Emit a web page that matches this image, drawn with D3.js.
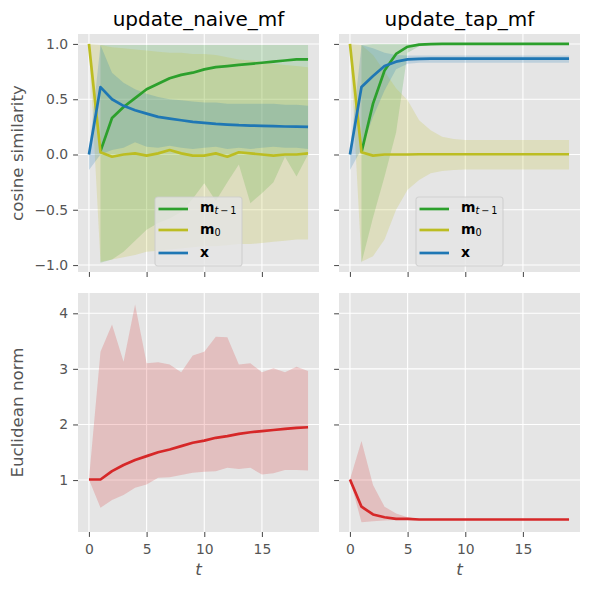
<!DOCTYPE html>
<html>
<head>
<meta charset="utf-8">
<script src="https://cdn.jsdelivr.net/npm/d3@7"></script>
<style>
  body { margin: 0; background: #fff; }
  svg text { font-family: "DejaVu Sans", sans-serif; }
</style>
</head>
<body>
<svg id="chart" width="590" height="590"></svg>
<script>

var steps = [0,1,2,3,4,5,6,7,8,9,10,11,12,13,14,15,16,17,18,19];

// cosine similarity, update_naive_mf
var naivePrev   = [null,0.03,0.33,0.43,0.51,0.59,0.64,0.69,0.72,0.74,0.77,0.79,0.80,0.81,0.82,0.83,0.84,0.85,0.86,0.86];
var naivePrevLo = [null,-0.98,-0.95,-0.88,-0.78,-0.68,-0.62,-0.58,-0.52,-0.40,-0.26,-0.42,-0.25,-0.09,-0.44,-0.35,-0.25,-0.02,-0.20,0.00];
var naivePrevHi = [null,0.99,0.99,0.99,0.99,0.99,0.99,0.99,0.99,0.99,0.99,0.99,0.99,0.99,0.99,0.99,0.99,0.99,0.99,0.99];
var naiveInit   = [1.0,0.02,-0.02,0.0,0.01,-0.01,0.01,0.04,0.01,-0.01,-0.01,0.01,-0.02,0.02,0.01,0.0,-0.01,0.0,0.0,0.01];
var naiveInitLo = [1.0,-0.97,-0.95,-0.93,-0.91,-0.88,-0.87,-0.86,-0.85,-0.84,-0.83,-0.83,-0.82,-0.81,-0.81,-0.80,-0.79,-0.78,-0.77,-0.77];
var naiveInitHi = [1.0,0.99,0.97,0.96,0.95,0.94,0.93,0.92,0.92,0.91,0.91,0.90,0.88,0.86,0.85,0.84,0.82,0.81,0.80,0.79];
var naiveX      = [0.0,0.61,0.50,0.44,0.40,0.37,0.34,0.325,0.31,0.295,0.286,0.277,0.271,0.265,0.262,0.259,0.256,0.253,0.252,0.25];
var naiveXLo    = [-0.14,0.0,0.04,0.06,0.11,0.07,0.06,0.08,0.06,0.05,0.06,0.07,0.05,0.06,0.05,0.06,0.07,0.06,0.06,0.05];
var naiveXHi    = [0.02,0.99,0.74,0.65,0.59,0.55,0.52,0.50,0.49,0.48,0.47,0.47,0.46,0.46,0.46,0.46,0.46,0.45,0.45,0.44];

// cosine similarity, update_tap_mf
var tapPrev   = [null,0.02,0.46,0.76,0.91,0.975,0.994,0.999,1,1,1,1,1,1,1,1,1,1,1,1];
var tapPrevLo = [null,-0.98,-0.57,-0.20,0.20,0.92,0.98,0.99,0.995,0.995,0.995,0.995,0.995,0.995,0.995,0.995,0.995,0.995,0.995,0.995];
var tapPrevHi = [null,0.99,1,1,1,1,1,1,1,1,1,1,1,1,1,1,1,1,1,1];
var tapInit   = [1.0,0.02,-0.01,0.0,0.0,0.0,0.002,0.002,0.002,0.002,0.002,0.002,0.002,0.002,0.002,0.002,0.002,0.002,0.002,0.002];
var tapInitLo = [1.0,-0.97,-0.92,-0.77,-0.50,-0.32,-0.23,-0.17,-0.15,-0.14,-0.135,-0.135,-0.135,-0.135,-0.135,-0.135,-0.135,-0.135,-0.135,-0.135];
var tapInitHi = [1.0,0.99,0.90,0.75,0.60,0.49,0.31,0.22,0.16,0.14,0.13,0.13,0.13,0.13,0.13,0.13,0.13,0.13,0.13,0.13];
var tapX      = [0.0,0.61,0.71,0.80,0.84,0.86,0.865,0.867,0.867,0.867,0.867,0.867,0.867,0.867,0.867,0.867,0.867,0.867,0.867,0.867];
var tapXLo    = [-0.14,0.05,0.34,0.58,0.77,0.82,0.83,0.83,0.83,0.83,0.83,0.83,0.83,0.83,0.83,0.83,0.83,0.83,0.83,0.83];
var tapXHi    = [0.02,0.99,0.96,0.92,0.90,0.895,0.895,0.895,0.895,0.895,0.895,0.895,0.895,0.895,0.895,0.895,0.895,0.895,0.895,0.895];

// euclidean norm
var naiveNorm   = [1.01,1.01,1.16,1.27,1.36,1.43,1.50,1.55,1.61,1.67,1.71,1.76,1.79,1.83,1.86,1.88,1.90,1.92,1.94,1.95];
var naiveNormLo = [1.01,0.50,0.64,0.73,0.86,0.92,1.04,1.05,1.09,1.13,1.15,1.16,1.22,1.20,1.22,1.10,1.12,1.18,1.18,1.17];
var naiveNormHi = [1.01,3.31,3.80,3.13,4.16,3.10,3.12,3.08,2.94,3.24,3.31,3.58,3.57,3.08,3.10,2.94,3.01,2.94,3.04,2.96];
var tapNorm     = [1.01,0.52,0.38,0.33,0.30,0.30,0.29,0.29,0.29,0.29,0.29,0.29,0.29,0.29,0.29,0.29,0.29,0.29,0.29,0.29];
var tapNormLo   = [1.01,0.24,0.26,0.27,0.28,0.28,0.28,0.28,0.28,0.28,0.28,0.28,0.28,0.28,0.28,0.28,0.28,0.28,0.28,0.28];
var tapNormHi   = [1.01,1.70,0.91,0.52,0.40,0.33,0.30,0.30,0.30,0.30,0.30,0.30,0.30,0.30,0.30,0.30,0.30,0.30,0.30,0.30];

var titles = ["update_naive_mf", "update_tap_mf"];
var rowLabels = ["cosine similarity", "Euclidean norm"];
var stepTicks = [0, 5, 10, 15];
var cosTicks = [-1.0, -0.5, 0.0, 0.5, 1.0];
var normTicks = [1, 2, 3, 4];

var colors = {prev: "#2ca02c", init: "#bcbd22", x: "#1f77b4", norm: "#d62728"};

var colLeft = [78, 339], panelW = 241;
var rowTop = [34, 293];
var tickFont = 13.9, labelFont = 16.7, titleFont = 20;

var svg = d3.select("#chart");

var x = d3.scaleLinear().domain([-0.95, 19.95]).range([0, panelW]);
var yCos = d3.scaleLinear().domain([-1.063, 1.09]).range([238, 0]);
var yNorm = d3.scaleLinear().domain([0.065, 4.365]).range([239, 0]);

function rows(mid, lo, hi) {
  return steps.map(function(t, i) { return {t: t, m: mid[i], lo: lo[i], hi: hi[i]}; });
}

function panel(col, row, y, yTicks, yFmt, series, withLegend) {
  var h = y.range()[0];
  var g = svg.append("g")
    .attr("transform", "translate(" + colLeft[col] + "," + rowTop[row] + ")");

  g.append("rect")
    .attr("width", panelW)
    .attr("height", h)
    .attr("fill", "#E5E5E5");

  // grid
  g.selectAll(".vgrid").data(stepTicks).enter().append("line")
    .attr("x1", function(d) { return x(d); })
    .attr("x2", function(d) { return x(d); })
    .attr("y1", 0).attr("y2", h)
    .attr("stroke", "#fff").attr("stroke-width", 1.1);
  g.selectAll(".hgrid").data(yTicks).enter().append("line")
    .attr("y1", function(d) { return y(d); })
    .attr("y2", function(d) { return y(d); })
    .attr("x1", 0).attr("x2", panelW)
    .attr("stroke", "#fff").attr("stroke-width", 1.1);

  var area = d3.area()
    .defined(function(d) { return d.lo != null; })
    .x(function(d) { return x(d.t); })
    .y0(function(d) { return y(d.lo); })
    .y1(function(d) { return y(d.hi); });

  var line = d3.line()
    .defined(function(d) { return d.m != null; })
    .x(function(d) { return x(d.t); })
    .y(function(d) { return y(d.m); });

  // fills sit under every line, like matplotlib collections
  series.forEach(function(s) {
    g.append("path")
      .attr("d", area(s.data))
      .attr("fill", s.color)
      .attr("fill-opacity", 0.2)
      .attr("stroke", "none");
  });
  series.forEach(function(s) {
    g.append("path")
      .attr("d", line(s.data))
      .attr("fill", "none")
      .attr("stroke", s.color)
      .attr("stroke-width", 2.7)
      .attr("stroke-linejoin", "round");
  });

  var xAxis = g.append("g")
    .attr("transform", "translate(0," + h + ")")
    .call(d3.axisBottom(x).tickValues(stepTicks).tickSizeInner(4.9).tickSizeOuter(0).tickPadding(4.9)
      .tickFormat(row == 1 ? d3.format("d") : function() { return ""; }));
  var yAxis = g.append("g")
    .call(d3.axisLeft(y).tickValues(yTicks).tickSizeInner(4.9).tickSizeOuter(0).tickPadding(4.9)
      .tickFormat(col == 0 ? yFmt : function() { return ""; }));

  [xAxis, yAxis].forEach(function(a) {
    a.select(".domain").remove();
    a.selectAll("line").attr("stroke", "#555").attr("stroke-width", 1.1);
    a.selectAll("text")
      .attr("fill", "#555")
      .style("font-size", tickFont + "px")
      .style("font-family", "DejaVu Sans, sans-serif");
  });
  xAxis.selectAll("text").attr("dy", null).attr("y", 21.5);

  if (withLegend) legendBox(g, series);
}

function legendBox(g, series) {
  var bw = 87, bh = 69;
  var lg = g.append("g")
    .attr("transform", "translate(" + (panelW / 2 - bw / 2) + "," + (yCos(-1.063) - 6 - bh) + ")");
  lg.append("rect")
    .attr("width", bw).attr("height", bh)
    .attr("rx", 2.8)
    .attr("fill", "#E5E5E5").attr("fill-opacity", 0.8)
    .attr("stroke", "#ccc").attr("stroke-opacity", 0.8).attr("stroke-width", 1.1);

  var rowY = [12, 33, 56];
  series.forEach(function(s, i) {
    lg.append("line")
      .attr("x1", 3.5).attr("x2", 33)
      .attr("y1", rowY[i]).attr("y2", rowY[i])
      .attr("stroke", s.color).attr("stroke-width", 2.7);
    var t = lg.append("text")
      .attr("x", 45)
      .attr("y", rowY[i] + (s.key == "prev" ? 2.7 : 4))
      .attr("fill", "#000")
      .style("font-size", tickFont + "px");
    t.append("tspan").attr("font-weight", "bold").text(s.key == "x" ? "x" : "m");
    if (s.key == "prev") {
      t.append("tspan").attr("font-style", "italic").attr("font-size", "9.7px").attr("dy", 2.2).text("t");
      t.append("tspan").attr("font-size", "9.7px").text("\u2009\u2212\u20091");
    } else if (s.key == "init") {
      t.append("tspan").attr("font-size", "9.7px").attr("dy", 2.3).text("0");
    }
  });
}

panel(0, 0, yCos, cosTicks, d3.format(".1f"), [
  {key: "prev", color: colors.prev, data: rows(naivePrev, naivePrevLo, naivePrevHi)},
  {key: "init", color: colors.init, data: rows(naiveInit, naiveInitLo, naiveInitHi)},
  {key: "x", color: colors.x, data: rows(naiveX, naiveXLo, naiveXHi)}
], true);

panel(1, 0, yCos, cosTicks, d3.format(".1f"), [
  {key: "prev", color: colors.prev, data: rows(tapPrev, tapPrevLo, tapPrevHi)},
  {key: "init", color: colors.init, data: rows(tapInit, tapInitLo, tapInitHi)},
  {key: "x", color: colors.x, data: rows(tapX, tapXLo, tapXHi)}
], true);

panel(0, 1, yNorm, normTicks, d3.format("d"), [
  {key: "norm", color: colors.norm, data: rows(naiveNorm, naiveNormLo, naiveNormHi)}
], false);

panel(1, 1, yNorm, normTicks, d3.format("d"), [
  {key: "norm", color: colors.norm, data: rows(tapNorm, tapNormLo, tapNormHi)}
], false);

// titles
svg.selectAll(".title").data(titles).enter().append("text")
  .attr("x", function(d, i) { return colLeft[i] + panelW / 2; })
  .attr("y", 25.5)
  .attr("text-anchor", "middle")
  .attr("fill", "#000")
  .style("font-size", titleFont + "px")
  .text(function(d) { return d; });

// y labels
svg.selectAll(".ylab").data(rowLabels).enter().append("text")
  .attr("transform", function(d, i) {
    var cy = i == 0 ? rowTop[0] + 119 : rowTop[1] + 119.5;
    return "translate(23," + cy + ")rotate(-90)";
  })
  .attr("text-anchor", "middle")
  .attr("fill", "#555")
  .style("font-size", labelFont + "px")
  .text(function(d) { return d; });

// x labels
svg.selectAll(".xlab").data(colLeft).enter().append("text")
  .attr("x", function(d) { return d + panelW / 2; })
  .attr("y", 575)
  .attr("text-anchor", "middle")
  .attr("fill", "#555")
  .style("font-size", labelFont + "px")
  .style("font-style", "italic")
  .text("t");

</script>
</body>
</html>
